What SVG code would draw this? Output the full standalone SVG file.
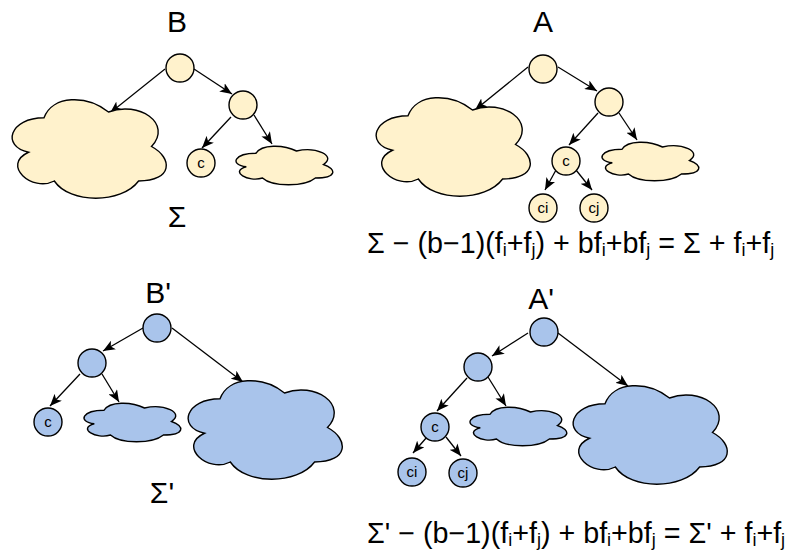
<svg xmlns="http://www.w3.org/2000/svg" xmlns:xlink="http://www.w3.org/1999/xlink" width="793" height="553" viewBox="0 0 793 553">
<style>
.y{fill:#FFF2CC;stroke:#000;stroke-width:1.4}
.b{fill:#A9C4EB;stroke:#000;stroke-width:1.4}
.e{stroke:#000;stroke-width:1.3;fill:none;marker-end:url(#ah)}
.t{font-family:"Liberation Sans",Arial,sans-serif;fill:#000}
.big{font-size:30px;text-anchor:middle}
.sm{font-size:15px;text-anchor:middle}
.f{font-size:28.7px}
.s{font-size:18px}
</style>
<defs>
<marker id="ah" viewBox="0 0 12 10" refX="12" refY="5" markerWidth="12" markerHeight="10" markerUnits="userSpaceOnUse" orient="auto">
<path d="M12,5 L0,0 L3,5 L0,10 Z" fill="#000"/>
</marker>
<path id="bigc" d="M 43 28.75 C 8.6 28.75 0 57.5 27.52 63.25 C 0 75.9 30.96 103.5 53.32 92 C 68.8 115 120.4 115 137.6 92 C 172 92 172 69 150.5 57.5 C 172 34.5 137.6 11.5 107.5 23 C 86 5.75 51.6 5.75 43 28.75 Z"/>
<path id="smc" d="M 27 11.25 C 5.4 11.25 0 22.5 17.28 24.75 C 0 29.7 19.44 40.5 33.48 36 C 43.2 45 75.6 45 86.4 36 C 108 36 108 27 94.5 22.5 C 108 13.5 86.4 4.5 67.5 9 C 54 2.25 32.4 2.25 27 11.25 Z"/>
</defs>
<rect width="793" height="553" fill="#fff"/>

<g id="labels">
<text class="t big" x="177" y="32">B</text>
<text class="t big" x="543" y="32">A</text>
<text class="t big" x="158" y="303">B'</text>
<text class="t big" x="541" y="309">A'</text>
<text class="t big" x="177" y="227">Σ</text>
<text class="t big" x="162" y="503">Σ'</text>
<text class="t f" x="367" y="253">Σ − (b−1)(f<tspan class="s" dy="3">i</tspan><tspan dy="-3">+f</tspan><tspan class="s" dy="3">j</tspan><tspan dy="-3">) + bf</tspan><tspan class="s" dy="3">i</tspan><tspan dy="-3">+bf</tspan><tspan class="s" dy="3">j</tspan><tspan dy="-3"> = Σ + f</tspan><tspan class="s" dy="3">i</tspan><tspan dy="-3">+f</tspan><tspan class="s" dy="3">j</tspan></text>
<text class="t f" x="367" y="543">Σ' − (b−1)(f<tspan class="s" dy="3">i</tspan><tspan dy="-3">+f</tspan><tspan class="s" dy="3">j</tspan><tspan dy="-3">) + bf</tspan><tspan class="s" dy="3">i</tspan><tspan dy="-3">+bf</tspan><tspan class="s" dy="3">j</tspan><tspan dy="-3"> = Σ' + f</tspan><tspan class="s" dy="3">i</tspan><tspan dy="-3">+f</tspan><tspan class="s" dy="3">j</tspan></text>
</g>

<g id="connectors">
<line class="e" x1="165" y1="69" x2="110" y2="113"/>
<line class="e" x1="194" y1="69" x2="232" y2="94"/>
<line class="e" x1="231" y1="117" x2="202" y2="148"/>
<line class="e" x1="254" y1="115" x2="272" y2="144"/>

<line class="e" x1="528" y1="67" x2="475" y2="110"/>
<line class="e" x1="558" y1="67" x2="597" y2="91"/>
<line class="e" x1="598" y1="113" x2="569" y2="145"/>
<line class="e" x1="619" y1="113" x2="637" y2="140"/>
<line class="e" x1="556" y1="170" x2="545" y2="190"/>
<line class="e" x1="576" y1="170" x2="592" y2="190"/>

<line class="e" x1="143" y1="328" x2="103" y2="351"/>
<line class="e" x1="172" y1="328" x2="243" y2="382"/>
<line class="e" x1="80" y1="374" x2="50" y2="406"/>
<line class="e" x1="102" y1="374" x2="119" y2="402"/>

<line class="e" x1="528" y1="333" x2="492" y2="356"/>
<line class="e" x1="558" y1="333" x2="628" y2="386"/>
<line class="e" x1="467" y1="378" x2="437" y2="411"/>
<line class="e" x1="488" y1="377" x2="506" y2="406"/>
<line class="e" x1="427" y1="437" x2="413" y2="453"/>
<line class="e" x1="446" y1="437" x2="461" y2="456"/>
</g>

<g id="B-root"><circle class="y" cx="180" cy="68" r="14"/></g>
<g id="B-inner"><circle class="y" cx="243" cy="105" r="14"/></g>
<g id="B-c"><circle class="y" cx="201" cy="163" r="14"/><text class="t sm" x="201" y="168">c</text></g>
<g id="B-bigcloud"><use xlink:href="#bigc" class="y" transform="translate(1,89)"/></g>
<g id="B-smallcloud"><use xlink:href="#smc" class="y" transform="translate(229,142)"/></g>

<g id="A-root"><circle class="y" cx="543" cy="69" r="14"/></g>
<g id="A-inner"><circle class="y" cx="609" cy="102" r="14"/></g>
<g id="A-c"><circle class="y" cx="566" cy="161" r="14"/><text class="t sm" x="566" y="166">c</text></g>
<g id="A-ci"><circle class="y" cx="543" cy="208" r="14"/><text class="t sm" x="543" y="213">ci</text></g>
<g id="A-cj"><circle class="y" cx="594" cy="208" r="14"/><text class="t sm" x="594" y="213">cj</text></g>
<g id="A-bigcloud"><use xlink:href="#bigc" class="y" transform="translate(365,87)"/></g>
<g id="A-smallcloud"><use xlink:href="#smc" class="y" transform="translate(595,138)"/></g>

<g id="Bp-root"><circle class="b" cx="157" cy="328" r="14"/></g>
<g id="Bp-inner"><circle class="b" cx="92" cy="363" r="14"/></g>
<g id="Bp-c"><circle class="b" cx="48" cy="422" r="14"/><text class="t sm" x="48" y="427">c</text></g>
<g id="Bp-smallcloud"><use xlink:href="#smc" class="b" transform="translate(77,399)"/></g>
<g id="Bp-bigcloud"><use xlink:href="#bigc" class="b" transform="translate(177,370)"/></g>

<g id="Ap-root"><circle class="b" cx="544" cy="332" r="14"/></g>
<g id="Ap-inner"><circle class="b" cx="478" cy="367" r="14"/></g>
<g id="Ap-c"><circle class="b" cx="435" cy="427" r="14"/><text class="t sm" x="435" y="432">c</text></g>
<g id="Ap-ci"><circle class="b" cx="412" cy="472" r="14"/><text class="t sm" x="412" y="477">ci</text></g>
<g id="Ap-cj"><circle class="b" cx="463" cy="473" r="14"/><text class="t sm" x="463" y="478">cj</text></g>
<g id="Ap-smallcloud"><use xlink:href="#smc" class="b" transform="translate(463,403)"/></g>
<g id="Ap-bigcloud"><use xlink:href="#bigc" class="b" transform="translate(562,375)"/></g>
</svg>
